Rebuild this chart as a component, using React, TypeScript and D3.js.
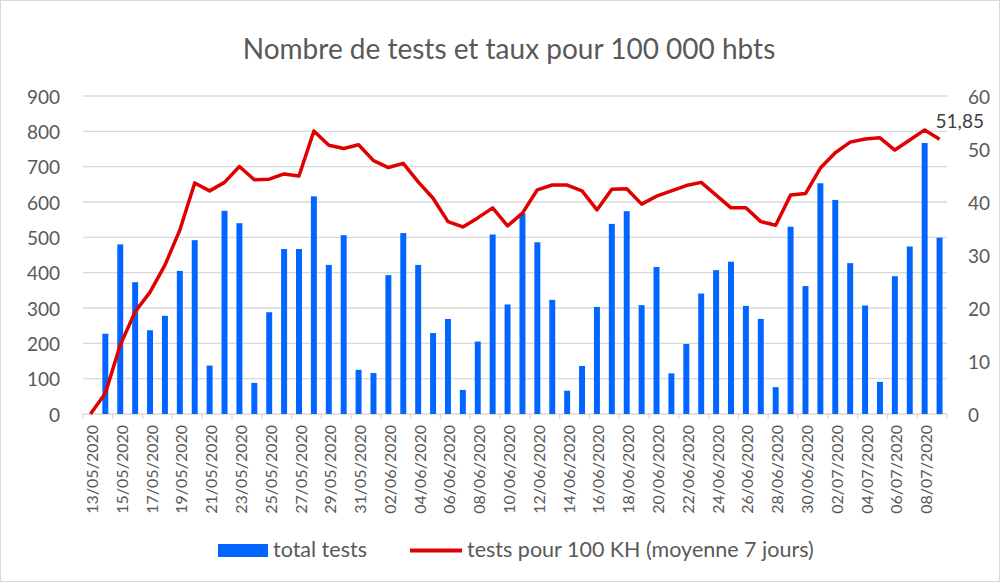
import * as d3 from "d3";

const startDay = new Date(2020, 4, 13);
const endDay = new Date(2020, 6, 10);
const fmt = d3.timeFormat("%d/%m/%Y");
const dates = d3.timeDay.range(startDay, endDay).map((d) => fmt(d));

const totalTests = [
  0, 227, 480, 373, 237, 278, 405, 492, 137, 575,
  540, 88, 288, 467, 467, 616, 422, 506, 125, 116,
  393, 512, 422, 229, 269, 68, 205, 508, 310, 568,
  486, 323, 66, 136, 303, 538, 574, 308, 416, 115,
  198, 341, 407, 431, 306, 269, 76, 530, 362, 653,
  606, 427, 307, 91, 390, 474, 767, 499,
];

const ratePer100k = [
  0, 3.9, 13.0, 19.3, 23.0, 28.1, 34.7, 43.6, 42.1, 43.7,
  46.7, 44.2, 44.3, 45.3, 44.9, 53.4, 50.7, 50.1, 50.8, 47.8,
  46.5, 47.3, 43.8, 40.7, 36.3, 35.3, 37.0, 38.9, 35.5, 37.9,
  42.3, 43.2, 43.2, 42.1, 38.5, 42.4, 42.5, 39.6, 41.1, 42.1,
  43.1, 43.7, 41.3, 38.9, 38.9, 36.3, 35.6, 41.3, 41.6, 46.4,
  49.3, 51.3, 51.9, 52.1, 49.8, 51.7, 53.6, 51.85,
];

const leftTicks = [0, 100, 200, 300, 400, 500, 600, 700, 800, 900];
const rightTicks = [0, 10, 20, 30, 40, 50, 60];

const W = 1002;
const H = 583;
const FONT = "Lato, 'Open Sans', sans-serif";
const TEXT = "#595959";

export default function App() {
  const left = 83;
  const right = 947;
  const top = 96;
  const bottom = 414;

  const x = d3.scaleBand().domain(dates).range([left, right]).padding(0);
  const step = x.step();
  const yL = d3.scaleLinear().domain([0, 900]).range([bottom, top]);
  const yR = d3.scaleLinear().domain([0, 60]).range([bottom, top]);

  const line = d3
    .line<number>()
    .x((_, i) => x(dates[i])! + step / 2)
    .y((d) => yR(d));

  const lastI = dates.length - 1;
  const lastX = x(dates[lastI])! + step / 2;
  const lastY = yR(ratePer100k[lastI]);

  return (
    <svg
      width={W}
      height={H}
      style={{ position: "absolute", left: 0, top: 0, fontFamily: FONT }}
    >
      <rect x={0} y={0} width={W} height={H} fill="#fff" />
      <rect x={0.5} y={0.5} width={W - 3} height={H - 2} fill="none" stroke="#d9d9d9" />

      <text x={509} y={59} textAnchor="middle" fontSize={28} fill={TEXT}>
        Nombre de tests et taux pour 100 000 hbts
      </text>

      {leftTicks.map((t) => (
        <line key={t} x1={left} x2={right} y1={yL(t)} y2={yL(t)} stroke="#d9d9d9" strokeWidth={1.3} />
      ))}

      {dates.map((d, i) =>
        i % 2 === 0 ? (
          <line key={d} x1={x(d)} x2={x(d)} y1={bottom} y2={bottom + 5} stroke="#d9d9d9" strokeWidth={1.3} />
        ) : null
      )}
      <line x1={right} x2={right} y1={bottom} y2={bottom + 5} stroke="#d9d9d9" strokeWidth={1.3} />

      {totalTests.map((v, i) => (
        <rect
          key={i}
          x={x(dates[i])! + step * 0.3}
          y={yL(v)}
          width={step * 0.4}
          height={bottom - yL(v)}
          fill="#0066ff"
        />
      ))}

      <path d={line(ratePer100k)!} fill="none" stroke="#e00000" strokeWidth={3.5} strokeLinejoin="round" />

      <text x={lastX - 4} y={lastY - 11} fontSize={19} fill="#404040">
        51,85
      </text>

      {leftTicks.map((t) => (
        <text key={t} x={60} y={yL(t)} textAnchor="end" dominantBaseline="central" fontSize={19} fill={TEXT}>
          {t}
        </text>
      ))}
      {rightTicks.map((t) => (
        <text key={t} x={968} y={yR(t)} dominantBaseline="central" fontSize={19} fill={TEXT}>
          {t}
        </text>
      ))}

      {dates.map((d, i) =>
        i % 2 === 0 ? (
          <text
            key={d}
            transform={`translate(${x(d)! + step / 2 + 1},${bottom + 11}) rotate(-90)`}
            textAnchor="end"
            dominantBaseline="central"
            fontSize={16}
            fill={TEXT}
          >
            {d}
          </text>
        ) : null
      )}

      <rect x={218} y={544} width={50} height={13} fill="#0066ff" />
      <text x={273} y={557} fontSize={21.5} fill={TEXT}>
        total tests
      </text>
      <line x1={410} x2={462} y1={550.5} y2={550.5} stroke="#e00000" strokeWidth={4} />
      <text x={467} y={557} fontSize={21.5} fill={TEXT}>
        tests pour 100 KH (moyenne 7 jours)
      </text>
    </svg>
  );
}
